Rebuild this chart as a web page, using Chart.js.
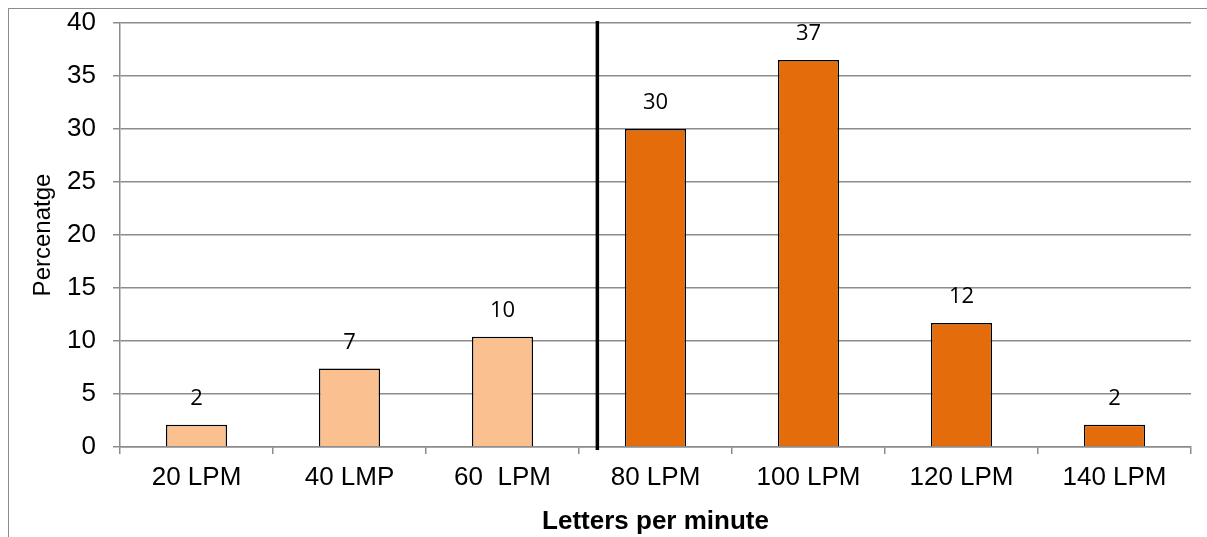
<!DOCTYPE html>
<html>
<head>
<meta charset="utf-8">
<script src="https://cdn.jsdelivr.net/npm/chart.js@4/dist/chart.umd.min.js"></script>
<style>
  html, body { margin: 0; padding: 0; background: #fff; }
  #wrap { position: relative; width: 1207px; height: 537px; overflow: hidden; }
  #frame { position: absolute; left: 8px; top: 8px; right: -5px; bottom: -5px;
           border-left: 1px solid #8c8c8c; border-top: 1px solid #8c8c8c; }
  canvas { position: absolute; left: 0; top: 0; }
</style>
</head>
<body>
<div id="wrap">
  <div id="frame"></div>
  <canvas id="chart" width="1207" height="537"></canvas>
</div>
<script>
const categories = ['20 LPM', '40 LMP', '60  LPM', '80 LPM', '100 LPM', '120 LPM', '140 LPM'];
const percentages = [2.1, 7.4, 10.4, 30.0, 36.5, 11.7, 2.1];
const yTicks = [0, 5, 10, 15, 20, 25, 30, 35, 40];
// divider sits between 60 LPM and 80 LPM, in category-index units
const dividerAt = 2.62;

const lightOrange = '#FAC090';
const darkOrange = '#E46C0A';
const barColors = percentages.map((v, i) => i < dividerAt ? lightOrange : darkOrange);

const axisFont = '"Liberation Sans", Arial, sans-serif';

const valueLabels = {
  id: 'valueLabels',
  afterDatasetsDraw(chart) {
    const ctx = chart.ctx;
    const meta = chart.getDatasetMeta(0);
    ctx.save();
    ctx.font = '22px "Open Sans", sans-serif';
    ctx.fillStyle = '#000';
    ctx.textAlign = 'center';
    ctx.textBaseline = 'middle';
    meta.data.forEach((bar, i) => {
      ctx.fillText(Math.round(percentages[i]), bar.x, bar.y - 26);
    });
    ctx.restore();
  }
};

const divider = {
  id: 'divider',
  afterDatasetsDraw(chart) {
    const ctx = chart.ctx;
    const x = chart.scales.x.getPixelForValue(dividerAt);
    const area = chart.chartArea;
    ctx.save();
    ctx.strokeStyle = '#000';
    ctx.lineWidth = 3.5;
    ctx.beginPath();
    ctx.moveTo(x, area.top - 2);
    ctx.lineTo(x, area.bottom + 3);
    ctx.stroke();
    ctx.restore();
  }
};

new Chart(document.getElementById('chart').getContext('2d'), {
  type: 'bar',
  data: {
    labels: categories,
    datasets: [{
      data: percentages,
      backgroundColor: barColors,
      borderColor: '#000',
      borderWidth: 1.5,
      barPercentage: 0.4,
      categoryPercentage: 1.0
    }]
  },
  options: {
    responsive: false,
    animation: false,
    layout: { padding: { left: 10, top: 23, right: 16, bottom: 0 } },
    plugins: {
      legend: { display: false },
      tooltip: { enabled: false }
    },
    scales: {
      x: {
        afterFit: (s) => { s.height = 90; s.paddingLeft = 0; s.paddingRight = 0; },
        grid: { drawOnChartArea: false, drawTicks: true, tickLength: 7, color: '#8c8c8c', lineWidth: 1.5, offset: true },
        border: { color: '#8c8c8c', width: 1.5 },
        ticks: { color: '#000', font: { family: axisFont, size: 26 }, padding: 8, maxRotation: 0 },
        title: {
          display: true,
          text: 'Letters per minute',
          color: '#000',
          font: { family: axisFont, size: 26, weight: 'bold' },
          padding: { top: 8, bottom: 0 }
        }
      },
      y: {
        min: 0,
        max: 40,
        afterFit: (s) => { s.width = 110; s.paddingTop = 0; s.paddingBottom = 0; },
        afterBuildTicks: (s) => { s.ticks = yTicks.map(v => ({ value: v })); },
        grid: { color: '#8c8c8c', lineWidth: 1.5, tickLength: 7 },
        border: { color: '#8c8c8c', width: 1.5 },
        ticks: { color: '#000', font: { family: axisFont, size: 26 }, padding: 17 },
        title: {
          display: true,
          text: 'Percenatge',
          color: '#000',
          font: { family: axisFont, size: 24 },
          padding: { top: 19, bottom: 0 }
        }
      }
    }
  },
  plugins: [valueLabels, divider]
});
</script>
</body>
</html>
